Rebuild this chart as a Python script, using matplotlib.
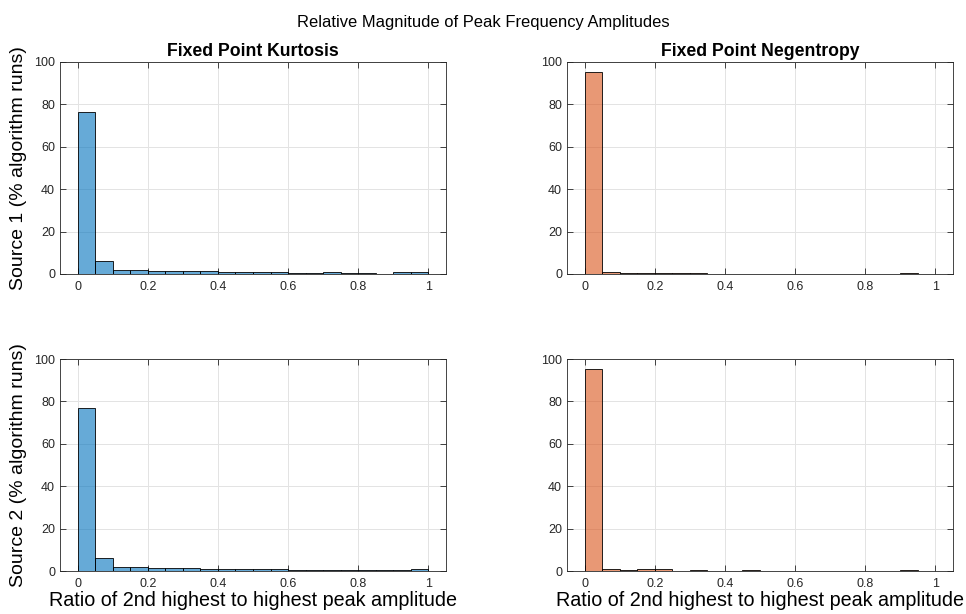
import numpy as np
import matplotlib
matplotlib.use("Agg")
import matplotlib.pyplot as plt

plt.rcParams['font.family'] = ['Liberation Sans', 'DejaVu Sans']

# bin edges: 20 bins of width 0.05 over the ratio range
edges = np.linspace(0, 1, 21)

# percent of algorithm runs in each bin
kurt_s1 = [76.2, 6.3, 1.8, 1.8, 1.6, 1.6, 1.3, 1.3, 0.8, 0.8, 0.8, 1.0, 0.6, 0.6, 0.8, 0.6, 0.6, 0.2, 0.8, 1.1]
negent_s1 = [95.5, 0.9, 0.5, 0.7, 0.5, 0.5, 0.5, 0.1, 0.1, 0.1, 0.1, 0.1, 0.1, 0.1, 0.0, 0.1, 0.1, 0.0, 0.5, 0.1]
kurt_s2 = [76.7, 6.1, 2.0, 2.0, 1.6, 1.6, 1.4, 0.8, 0.8, 1.1, 1.1, 0.8, 0.3, 0.6, 0.6, 0.5, 0.5, 0.5, 0.5, 0.8]
negent_s2 = [95.3, 1.0, 0.5, 0.8, 0.8, 0.2, 0.4, 0.2, 0.2, 0.4, 0.2, 0.2, 0.2, 0.2, 0.0, 0.2, 0.0, 0.2, 0.4, 0.2]

titles = ["Fixed Point Kurtosis", "Fixed Point Negentropy"]
ylabels = ["Source 1 (% algorithm runs)", "Source 2 (% algorithm runs)"]
xlabel = "Ratio of 2nd highest to highest peak amplitude"

blue = (0.0, 0.447, 0.741)
orange = (0.85, 0.325, 0.098)

fig = plt.figure(figsize=(9.66, 6.14), dpi=100)
W, H = 966, 614

def make_ax(l, r, t, b):
    return fig.add_axes([l / W, 1 - b / H, (r - l) / W, (b - t) / H])

axes = [[make_ax(60, 446, 62, 274), make_ax(567, 953, 62, 274)],
        [make_ax(60, 446, 359, 571), make_ax(567, 953, 359, 571)]]

data = [[kurt_s1, negent_s1], [kurt_s2, negent_s2]]
colors = [blue, orange]

for i in range(2):
    for j in range(2):
        ax = axes[i][j]
        vals = data[i][j]
        ax.bar(edges[:-1], vals, width=0.05, align='edge',
               color=colors[j] + (0.6,), edgecolor='black', linewidth=0.6, zorder=3)
        ax.set_xlim(-0.05, 1.05)
        ax.set_ylim(0, 100)
        ax.set_xticks([0, 0.2, 0.4, 0.6, 0.8, 1])
        ax.set_xticklabels(["0", "0.2", "0.4", "0.6", "0.8", "1"])
        ax.set_yticks([0, 20, 40, 60, 80, 100])
        ax.grid(True, color='#e3e3e3', linewidth=0.7, zorder=0)
        ax.tick_params(direction='in', top=True, right=True, labelsize=9,
                       length=4, width=0.6, color='#262626', labelcolor='#262626')
        ax.tick_params(axis='x', pad=5)
        for s in ax.spines.values():
            s.set_color('#262626')
            s.set_linewidth(0.6)
        if i == 0:
            ax.set_title(titles[j], fontsize=12.7, fontweight='bold', pad=4)
        if j == 0:
            ax.set_ylabel(ylabels[i], fontsize=14, labelpad=5)
        if i == 1:
            ax.set_xlabel(xlabel, fontsize=14.2, labelpad=1)

fig.suptitle("Relative Magnitude of Peak Frequency Amplitudes", fontsize=11.9, y=0.975)

fig.savefig("out.png", dpi=100)
